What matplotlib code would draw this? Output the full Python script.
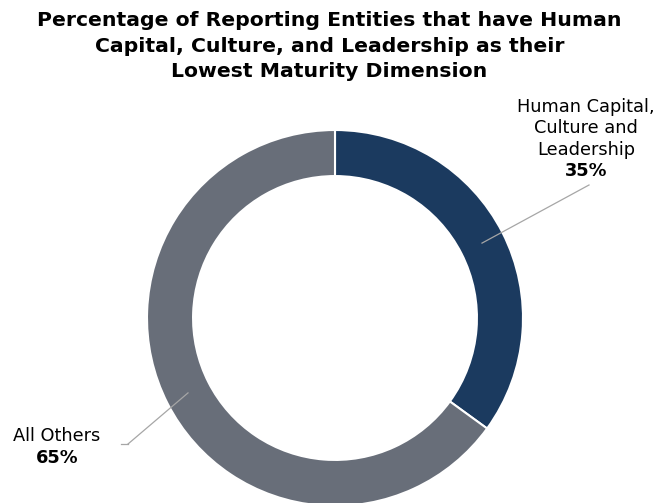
import numpy as np
import matplotlib.pyplot as plt

plt.rcParams['font.family'] = ['DejaVu Sans']

labels = ['Human Capital,\nCulture and\nLeadership', 'All Others']
values = [35, 65]
colors = ['#1b3a5f', '#686e79']

title = ('Percentage of Reporting Entities that have Human\n'
         'Capital, Culture, and Leadership as their\n'
         'Lowest Maturity Dimension')

fig = plt.figure(figsize=(6.72, 5.03), dpi=100)
ax = fig.add_axes([0, 0, 1, 1])
ax.axis('off')

cx, cy, r = 335, 185, 188
width = 0.245 * r
wedges, _ = ax.pie(values, colors=colors, startangle=90, counterclock=False,
                   radius=r, center=(cx, cy),
                   wedgeprops=dict(width=width, edgecolor='white', linewidth=1.5))
ax.set_xlim(0, 672)
ax.set_ylim(0, 503)
ax.set_aspect('equal')

# leader lines from the middle of each ring segment
mid_r = r - width / 2
ends = [(589, 318), (128, 59)]
for w, (ex, ey) in zip(wedges, ends):
    ang = np.deg2rad((w.theta1 + w.theta2) / 2)
    sx, sy = cx + mid_r * np.cos(ang), cy + mid_r * np.sin(ang)
    ax.plot([sx, ex], [sy, ey], color='#a6a6a6', lw=0.9)
ax.plot([128, 121], [59, 59], color='#a6a6a6', lw=0.9)

ax.text(586, 375, labels[0], ha='center', va='center', fontsize=12.8,
        linespacing=1.25)
ax.text(586, 332, f'{values[0]}%', ha='center', va='center', fontsize=12.8,
        fontweight='bold')
ax.text(57, 67, labels[1], ha='center', va='center', fontsize=12.8)
ax.text(57, 45, f'{values[1]}%', ha='center', va='center', fontsize=12.8,
        fontweight='bold')

fig.text(0.49, 0.978, title, ha='center', va='top', fontsize=14.7,
         fontweight='bold', linespacing=1.44)

fig.savefig('out.png', dpi=100)
